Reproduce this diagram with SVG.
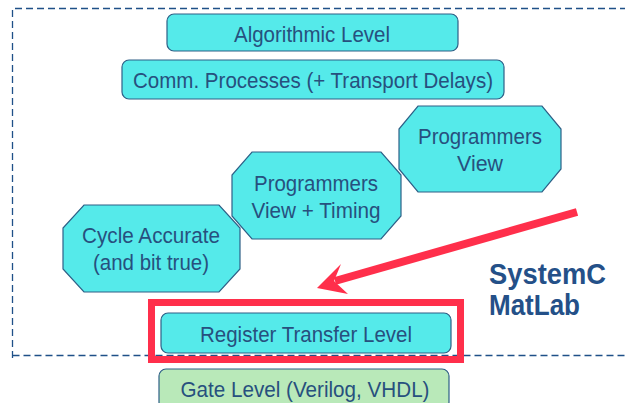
<svg xmlns="http://www.w3.org/2000/svg" width="625" height="403" viewBox="0 0 625 403">
<style>
.box{fill:#55EAEA;stroke:#2E5F86;stroke-width:1.2}
.green{fill:#B9E9B9;stroke:#2E5F86;stroke-width:1.2}
.t{font-family:"Liberation Sans",Arial,sans-serif;font-size:22px;fill:#27507E;text-anchor:middle}
.big{font-family:"Liberation Sans",Arial,sans-serif;font-size:29px;font-weight:bold;fill:#245088}
</style>
<rect x="0" y="0" width="625" height="403" fill="#ffffff"/>
<path d="M12.5 358 V8.5 H625 M12.5 355.5 H625" fill="none" stroke="#1F5088" stroke-width="1.3" stroke-dasharray="7,4"/>
<g id="algorithmic">
<rect class="box" x="167" y="14" width="291" height="37" rx="7"/>
<text class="t" x="312" y="42" textLength="156" lengthAdjust="spacingAndGlyphs">Algorithmic Level</text>
</g>
<g id="comm">
<rect class="box" x="122" y="60" width="382" height="39" rx="7"/>
<text class="t" x="313" y="88" textLength="360" lengthAdjust="spacingAndGlyphs">Comm. Processes (+ Transport Delays)</text>
</g>
<g id="pv">
<polygon class="box" points="418,106 542,106 561,129 561,169 542,192 418,192 399,169 399,129"/>
<text class="t" x="480" y="144" textLength="124" lengthAdjust="spacingAndGlyphs">Programmers</text>
<text class="t" x="480" y="171" textLength="46" lengthAdjust="spacingAndGlyphs">View</text>
</g>
<g id="pvt">
<polygon class="box" points="252,152 381,152 401,175 401,216 381,239 252,239 232,216 232,175"/>
<text class="t" x="316" y="191" textLength="124" lengthAdjust="spacingAndGlyphs">Programmers</text>
<text class="t" x="316" y="218" textLength="129" lengthAdjust="spacingAndGlyphs">View + Timing</text>
</g>
<g id="ca">
<polygon class="box" points="84,205 219,205 240,228 240,269 219,292 84,292 63,269 63,228"/>
<text class="t" x="151" y="243" textLength="138" lengthAdjust="spacingAndGlyphs">Cycle Accurate</text>
<text class="t" x="151" y="270" textLength="116" lengthAdjust="spacingAndGlyphs">(and bit true)</text>
</g>
<g id="rtl">
<rect class="box" x="161" y="313" width="290" height="40" rx="7"/>
<text class="t" x="306" y="342" textLength="212" lengthAdjust="spacingAndGlyphs">Register Transfer Level</text>
</g>
<g id="gate">
<rect class="green" x="159" y="369" width="290" height="40" rx="7"/>
<text class="t" x="305" y="397" textLength="249" lengthAdjust="spacingAndGlyphs">Gate Level (Verilog, VHDL)</text>
</g>
<g id="connectors">
<rect x="151.5" y="302.5" width="309" height="57" fill="none" stroke="#FF2F4B" stroke-width="7"/>
<line x1="577" y1="212" x2="335" y2="281" stroke="#FF2F4B" stroke-width="8"/>
<polygon points="317,288 341,264 334,281 348,294" fill="#FF2F4B"/>
</g>
<text class="big" x="489" y="284" textLength="117" lengthAdjust="spacingAndGlyphs">SystemC</text>
<text class="big" x="489" y="315" textLength="91" lengthAdjust="spacingAndGlyphs">MatLab</text>
</svg>
